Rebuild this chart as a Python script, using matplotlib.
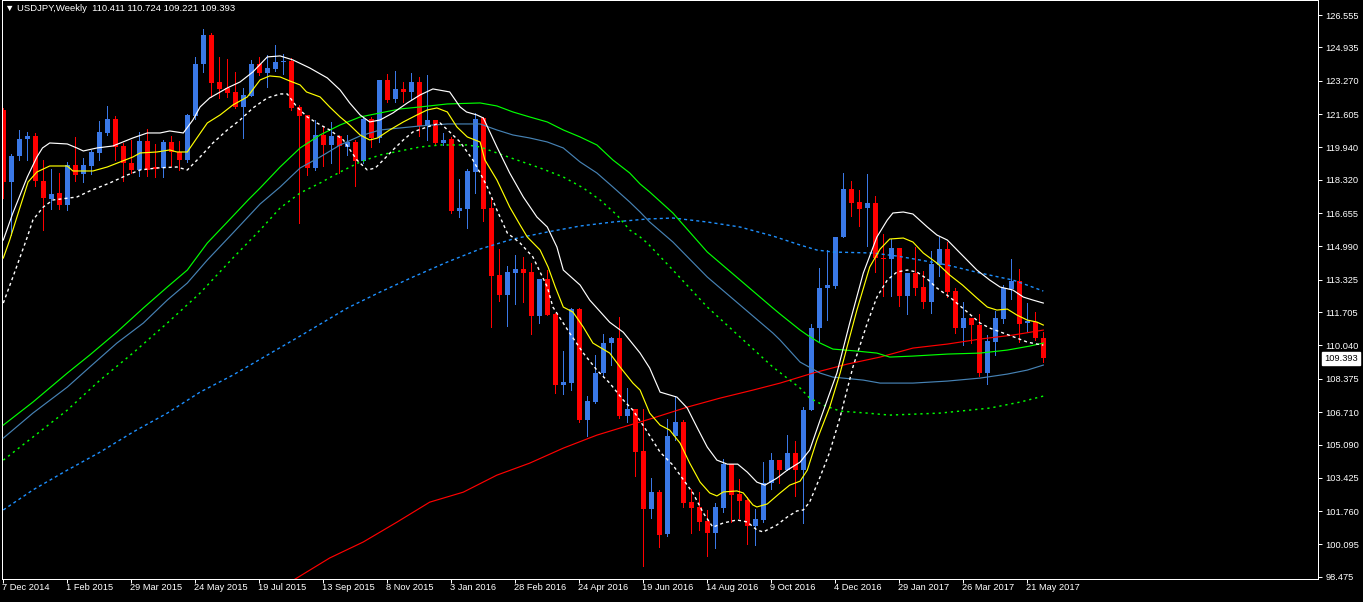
import matplotlib
matplotlib.use('Agg')
import matplotlib.pyplot as plt
from matplotlib.transforms import offset_copy, blended_transform_factory
import numpy as np

# ---------------- data ----------------
opens = [121.80, 118.22, 119.50, 120.36, 120.50, 118.26, 117.36, 117.66, 117.06, 119.06,
         118.60, 119.00, 119.66, 120.66, 121.35, 120.00, 119.16, 118.80, 120.26, 118.95,
         118.90, 120.20, 119.70, 119.30, 121.50, 124.10, 125.56, 123.20, 122.90, 122.70,
         121.95, 122.50, 124.10, 123.66, 123.86, 124.20, 124.25, 121.95, 121.56, 118.90,
         120.56, 120.06, 120.50, 119.96, 120.20, 119.26, 121.36, 120.40, 123.30, 122.36,
         122.86, 122.70, 123.20, 121.00, 121.30, 120.16, 120.36, 116.76, 116.86, 118.70,
         121.40, 116.90, 113.56, 112.56, 113.66, 113.86, 113.70, 111.50, 113.36, 111.60,
         108.06, 108.16, 111.85, 106.30, 107.20, 108.66, 110.16, 110.40, 106.50, 106.86,
         104.76, 101.87, 102.72, 100.60, 105.50, 106.22, 102.20, 101.97, 101.27, 100.67,
         101.92, 104.12, 102.60, 102.32, 101.02, 101.32, 103.17, 104.32, 103.82, 104.67,
         103.82, 106.82, 110.90, 112.90, 113.00, 115.46, 117.86, 117.20, 116.91, 117.16,
         114.41, 114.36, 114.90, 112.51, 113.66, 112.96, 112.21, 114.06, 114.86, 112.76,
         110.91, 111.41, 111.06, 108.66, 110.21, 111.36, 112.86, 113.26, 111.16, 111.21,
         110.411]
highs = [121.90, 119.60, 120.81, 120.70, 120.65, 119.30, 118.86, 118.66, 119.20, 120.46,
         119.40, 119.80, 121.25, 122.00, 121.50, 120.16, 120.30, 120.70, 120.86, 120.10,
         120.30, 120.50, 120.26, 121.60, 124.45, 125.86, 125.65, 124.45, 124.35, 123.70,
         122.90, 124.30, 124.45, 124.55, 125.05, 124.60, 124.40, 122.05, 121.56, 121.30,
         121.00, 121.20, 120.56, 120.56, 120.30, 121.46, 121.46, 123.30, 123.60, 123.75,
         123.20, 123.66, 123.46, 123.56, 121.30, 120.66, 120.46, 118.36, 118.86, 121.66,
         121.46, 117.40, 114.86, 114.00, 114.56, 114.46, 114.16, 113.36, 113.80, 111.66,
         109.76, 111.90, 111.90, 107.50, 109.56, 110.60, 110.46, 111.46, 107.90, 106.86,
         106.86, 103.40, 102.82, 106.36, 107.51, 106.30, 102.87, 102.72, 101.82, 102.17,
         104.37, 104.12, 103.37, 102.47, 101.87, 104.22, 104.67, 104.32, 105.57, 105.27,
         106.96, 111.10, 113.91, 114.80, 115.46, 118.66, 118.26, 117.81, 118.60, 117.50,
         115.60, 115.36, 114.90, 113.66, 114.96, 113.76, 114.76, 115.46, 115.21, 112.91,
         112.21, 111.41, 111.61, 110.56, 111.76, 113.06, 114.36, 113.86, 112.16, 111.71,
         110.724]
lows = [117.40, 115.57, 119.31, 119.30, 118.00, 115.80, 116.86, 116.86, 116.80, 118.26,
        118.20, 118.60, 119.30, 120.56, 119.30, 118.26, 118.65, 118.50, 118.50, 118.47,
        118.45, 119.00, 118.80, 119.20, 121.35, 123.70, 122.46, 122.40, 122.45, 121.90,
        120.40, 122.50, 123.56, 122.96, 123.76, 123.60, 121.80, 116.15, 118.55, 118.80,
        119.00, 119.16, 118.66, 119.56, 118.00, 119.16, 119.96, 120.20, 122.20, 122.20,
        122.20, 122.30, 120.50, 120.30, 120.10, 120.06, 116.66, 116.46, 115.90, 117.66,
        116.26, 110.96, 112.26, 111.00, 112.10, 112.20, 110.60, 111.16, 111.56, 107.66,
        107.60, 107.80, 106.20, 105.50, 107.16, 108.46, 109.06, 106.40, 106.20, 103.52,
        99.02, 101.42, 99.97, 100.50, 105.30, 101.97, 100.67, 100.82, 99.52, 99.92,
        101.72, 101.22, 101.42, 100.12, 100.07, 101.22, 102.87, 103.17, 103.82, 102.52,
        101.17, 106.80, 110.26, 111.30, 112.90, 115.46, 116.51, 116.01, 115.00, 113.70,
        112.50, 112.51, 112.00, 111.60, 112.56, 111.91, 111.66, 113.51, 112.46, 110.66,
        110.06, 110.16, 108.51, 108.11, 109.56, 111.16, 112.36, 110.21, 110.76, 110.31,
        109.221]
closes = [118.22, 119.50, 120.36, 120.50, 118.26, 117.40, 117.60, 117.06, 119.06, 118.56,
          119.06, 119.70, 120.70, 121.35, 119.96, 119.16, 118.80, 120.26, 118.80, 118.88,
          120.20, 119.70, 119.30, 121.56, 124.10, 125.56, 123.16, 122.86, 122.66, 121.95,
          122.56, 124.10, 123.66, 123.90, 124.20, 124.25, 121.90, 121.50, 118.90, 120.56,
          120.06, 120.50, 120.00, 120.20, 119.26, 121.36, 120.40, 123.30, 122.30, 122.86,
          122.70, 123.20, 121.00, 121.30, 120.16, 120.30, 116.76, 116.90, 118.76, 121.36,
          116.86, 113.51, 112.56, 113.70, 113.86, 113.66, 111.52, 113.36, 111.56, 108.06,
          108.20, 111.85, 106.30, 107.26, 108.66, 110.16, 110.40, 106.50, 106.86, 104.72,
          101.87, 102.72, 100.57, 105.52, 106.22, 102.17, 101.90, 101.22, 100.67, 101.97,
          104.12, 102.57, 102.27, 101.02, 101.37, 103.17, 104.32, 103.82, 104.67, 103.82,
          106.81, 110.91, 112.91, 113.06, 115.46, 117.86, 117.16, 116.86, 117.16, 114.41,
          114.36, 114.90, 112.51, 113.66, 112.91, 112.21, 114.11, 114.86, 112.71, 110.91,
          111.41, 111.06, 108.66, 110.26, 111.41, 112.91, 113.26, 111.11, 111.26, 110.41,
          109.393]

date_idx = [0, 8, 16, 24, 32, 40, 48, 56, 64, 72, 80, 88, 96, 104, 112, 120, 128]
date_labels = ['7 Dec 2014', '1 Feb 2015', '29 Mar 2015', '24 May 2015', '19 Jul 2015',
               '13 Sep 2015', '8 Nov 2015', '3 Jan 2016', '28 Feb 2016', '24 Apr 2016',
               '19 Jun 2016', '14 Aug 2016', '9 Oct 2016', '4 Dec 2016', '29 Jan 2017',
               '26 Mar 2017', '21 May 2017']
price_ticks = [126.555, 124.935, 123.270, 121.605, 119.940, 118.320, 116.655, 114.990,
               113.325, 111.705, 110.040, 108.375, 106.710, 105.090, 103.425, 101.760,
               100.095, 98.475]
last_price = 109.393
title_text = '\u25bc USDJPY,Weekly  110.411 110.724 109.221 109.393'

# indicator lines (week index, price)
white_up_idx = [0, 1.2, 3.0, 4.2, 4.9, 5.8, 8.0, 9.2, 10.0, 11.7, 13.7, 16.2, 18.0, 19.6, 20.8,
                22.5, 23.7, 24.6, 25.8, 28.0, 29.6, 31.2, 33.0, 34.6, 36.2, 38.3, 40.5, 42.1,
                43.3, 44.6, 45.8, 47.1, 48.7, 50.5, 52.1, 53.7, 55.8, 57.1, 57.9, 59.2, 60.0,
                61.7, 63.3, 65.0, 66.7, 68.0, 69.2, 70.0, 72.1, 73.3, 75.8, 77.5, 79.6, 80.8,
                82.1, 84.2, 85.5, 86.7, 88.0, 89.2, 90.5, 91.8, 93.0, 94.2, 95.2, 96.7, 98.0,
                99.6, 100.8, 102.1, 103.3, 104.2, 105.8, 107.5, 109.2, 110.5, 111.2, 112.5,
                113.7, 115.5, 116.7, 118.0, 119.6, 121.7, 123.3, 124.6, 126.2, 127.5, 128.7,
                130.0]
white_up_val = [115.31, 116.66, 118.46, 119.46, 119.91, 120.16, 120.11, 119.91, 119.76, 119.91,
                120.01, 120.41, 120.66, 120.66, 120.76, 120.66, 121.31, 121.96, 122.41, 122.91,
                123.21, 123.71, 124.46, 124.51, 124.31, 123.91, 123.41, 122.81, 122.16, 121.56,
                121.21, 121.31, 121.66, 122.16, 122.56, 122.86, 122.71, 121.96, 121.71, 121.56,
                121.41, 119.96, 118.66, 117.46, 116.46, 115.96, 114.96, 113.81, 113.06, 112.31,
                111.20, 110.70, 109.66, 108.91, 107.71, 107.46, 106.91, 105.96, 104.96, 104.31,
                104.11, 104.11, 103.71, 103.21, 103.06, 103.41, 103.81, 104.21, 104.81, 106.31,
                107.66, 108.66, 111.16, 113.66, 115.46, 116.31, 116.66, 116.71, 116.61, 115.96,
                115.56, 115.31, 114.66, 113.81, 113.31, 112.96, 112.81, 112.46, 112.31, 112.16]

yellow_idx = [0, 0.8, 2.1, 3.1, 4.2, 5.8, 8.0, 8.7, 11.2, 13.0, 14.6, 16.2, 17.1, 19.2, 20.8,
              21.7, 23.0, 24.2, 25.5, 27.1, 28.7, 30.5, 32.1, 33.3, 34.6, 35.8, 37.1, 37.9,
              39.6, 40.8, 42.1, 43.3, 44.6, 45.8, 46.8, 48.3, 50.0, 51.7, 53.0, 54.2, 55.5,
              56.7, 58.0, 59.6, 60.2, 61.7, 63.3, 64.6, 65.5, 67.1, 68.1, 69.0, 70.0, 71.2,
              72.5, 73.7, 75.8, 77.1, 78.7, 79.6, 80.8, 82.1, 83.3, 84.6, 85.8, 87.1, 88.3,
              89.2, 90.0, 91.7, 92.5, 93.7, 94.2, 95.5, 97.1, 98.3, 99.6, 100.5, 101.7, 103.3,
              104.6, 106.7, 108.3, 109.6, 110.8, 112.5, 113.7, 115.0, 116.7, 118.3, 119.9,
              121.7, 123.0, 124.2, 125.5, 126.7, 128.0, 129.2, 130.0]
yellow_val = [114.41, 115.31, 116.96, 118.21, 118.71, 119.01, 119.01, 118.76, 118.76, 118.96,
              119.21, 119.46, 119.66, 119.71, 119.81, 119.71, 119.71, 120.41, 121.16, 121.56,
              122.06, 122.46, 123.31, 123.51, 123.46, 123.26, 123.06, 122.71, 122.46, 121.96,
              121.46, 121.06, 120.56, 120.31, 120.41, 120.81, 121.21, 121.56, 121.81, 121.91,
              121.71, 120.96, 120.46, 120.21, 119.31, 118.31, 116.96, 116.06, 115.46, 114.81,
              113.96, 112.96, 111.96, 111.71, 110.96, 110.16, 109.66, 108.96, 108.16, 107.81,
              106.66, 106.06, 105.81, 105.16, 104.16, 103.21, 102.67, 102.52, 102.72, 102.77,
              102.67, 102.07, 101.97, 102.12, 102.67, 103.06, 103.26, 103.81, 105.31, 106.96,
              108.66, 111.81, 113.96, 114.86, 115.36, 115.41, 115.21, 114.66, 114.16, 113.56,
              113.06, 112.41, 111.96, 111.81, 111.86, 111.56, 111.31, 111.21, 111.06]

white_lo_idx = [0, 1.2, 2.1, 3.0, 3.7, 5.0, 6.2, 9.2, 10.8, 13.3, 15.5, 17.1, 19.2, 21.7, 23.0,
                24.6, 26.2, 28.0, 29.6, 31.2, 33.0, 34.6, 35.5, 36.7, 38.0, 39.2, 40.8, 42.5,
                44.2, 45.5, 46.5, 47.5, 48.7, 50.0, 51.2, 53.0, 54.6, 55.8, 57.1, 58.7, 59.6,
                60.5, 61.7, 63.0, 64.6, 66.2, 68.0, 68.7, 70.8, 72.5, 74.2, 75.8, 77.5, 78.7,
                80.2, 82.1, 83.7, 84.6, 86.2, 87.5, 88.7, 90.0, 91.7, 93.0, 94.2, 95.0, 96.7,
                98.0, 99.2, 100.0, 100.8, 102.1, 103.3, 104.6, 106.2, 108.0, 109.2, 110.5,
                111.7, 113.0, 114.2, 115.5, 116.7, 118.3, 120.5, 122.1, 123.3, 125.0, 126.7,
                128.0, 129.2, 130.0]
white_lo_val = [112.16, 113.46, 114.46, 115.46, 116.31, 116.96, 117.31, 117.46, 117.76, 118.16,
                118.56, 118.81, 118.91, 118.96, 118.81, 119.46, 120.16, 120.81, 121.31, 121.91,
                122.41, 122.61, 122.61, 121.96, 121.46, 121.16, 120.81, 120.31, 119.31, 118.81,
                118.91, 119.31, 119.81, 120.31, 120.71, 120.96, 121.16, 120.71, 120.21, 119.31,
                118.66, 117.96, 116.81, 115.66, 115.16, 114.46, 112.96, 111.96, 110.66, 109.66,
                108.81, 108.16, 107.31, 106.81, 105.91, 104.71, 104.06, 103.56, 102.67, 101.67,
                100.96, 101.17, 101.32, 101.22, 100.82, 100.72, 101.07, 101.47, 101.77, 101.82,
                102.22, 103.47, 104.71, 106.46, 108.96, 111.16, 112.46, 113.31, 113.71, 113.81,
                113.71, 113.36, 112.91, 112.46, 111.71, 111.16, 110.91, 110.66, 110.41, 110.21,
                110.11, 110.06]

green_up_idx = [0, 3.7, 8.0, 10.8, 14.2, 17.5, 20.5, 23.0, 25.5, 28.0, 30.6, 32.1, 34.6, 37.1,
                39.6, 42.1, 44.6, 47.1, 49.6, 52.1, 55.5, 59.6, 61.7, 63.7, 65.8, 68.0, 70.0,
                72.1, 74.2, 76.2, 78.3, 79.6, 80.8, 83.7, 88.0, 92.1, 96.2, 97.1, 99.6, 100.5,
                102.1, 103.7, 106.7, 109.2, 110.8, 113.7, 118.0, 122.1, 125.5, 128.3, 130.0]
green_up_val = [106.06, 107.21, 108.66, 109.56, 110.71, 111.91, 112.96, 113.81, 115.16, 116.21,
                117.31, 117.91, 118.96, 119.91, 120.56, 121.06, 121.46, 121.66, 121.86, 121.96,
                122.11, 122.16, 122.01, 121.71, 121.46, 121.21, 120.81, 120.46, 120.06, 119.31,
                118.66, 118.11, 117.71, 116.66, 114.71, 113.31, 111.91, 111.61, 110.81, 110.56,
                110.16, 109.86, 109.76, 109.66, 109.46, 109.51, 109.61, 109.66, 109.81, 110.01,
                110.16]

steel_idx = [0, 3.7, 8.0, 10.8, 14.2, 17.5, 20.5, 23.0, 25.5, 28.7, 32.1, 34.6, 37.1, 39.6,
             42.1, 44.6, 47.1, 49.6, 52.1, 55.5, 59.6, 61.7, 63.7, 65.8, 68.0, 70.0, 72.1, 74.2,
             76.2, 78.3, 79.6, 80.8, 83.7, 88.0, 92.1, 96.2, 97.1, 99.6, 102.1, 103.7, 107.5,
             109.6, 113.7, 118.0, 122.1, 125.5, 128.0, 130.0]
steel_val = [105.41, 106.66, 107.96, 108.96, 110.16, 111.16, 112.31, 113.16, 114.31, 115.66,
             117.11, 117.96, 118.91, 119.46, 120.06, 120.51, 120.81, 120.91, 121.01, 121.11,
             121.11, 120.81, 120.56, 120.41, 120.21, 119.91, 119.21, 118.66, 117.96, 117.21,
             116.71, 116.21, 115.21, 113.46, 112.06, 110.66, 110.31, 109.21, 108.66, 108.46,
             108.31, 108.16, 108.16, 108.26, 108.41, 108.61, 108.81, 109.06]

green_lo_idx = [0, 3.7, 8.0, 12.1, 16.2, 20.5, 24.6, 28.7, 32.1, 34.6, 37.1, 39.6, 42.1, 44.6,
                47.1, 49.6, 52.1, 54.6, 58.0, 59.6, 61.7, 64.2, 67.1, 70.0, 72.5, 74.6, 76.7,
                78.3, 79.6, 80.5, 83.7, 88.0, 92.1, 96.2, 99.6, 100.8, 102.5, 104.6, 108.0,
                110.8, 117.1, 123.3, 127.1, 130.0]
green_lo_val = [104.31, 105.46, 106.81, 108.31, 109.66, 111.16, 112.66, 114.41, 115.81, 116.91,
                117.66, 118.16, 118.71, 119.21, 119.56, 119.76, 119.96, 120.06, 120.06, 119.96,
                119.66, 119.31, 118.91, 118.46, 117.91, 117.31, 116.56, 115.81, 115.46, 115.16,
                113.81, 111.96, 110.46, 108.96, 107.91, 107.41, 107.06, 106.76, 106.66, 106.56,
                106.66, 106.91, 107.21, 107.51]

blue_dash_idx = [0, 3.7, 8.0, 12.1, 16.2, 20.5, 24.6, 28.7, 33.0, 37.1, 43.0, 47.1, 51.2, 55.5,
                 59.6, 63.7, 68.0, 72.1, 76.2, 80.5, 83.7, 88.0, 92.1, 96.2, 99.6, 101.7, 103.7,
                 108.7, 111.7, 114.6, 118.0, 122.1, 126.2, 128.3, 130.0]
blue_dash_val = [101.82, 102.82, 103.81, 104.71, 105.71, 106.66, 107.71, 108.56, 109.56, 110.51,
                 111.91, 112.71, 113.46, 114.21, 114.86, 115.36, 115.71, 116.01, 116.21, 116.36,
                 116.41, 116.21, 115.96, 115.51, 115.06, 114.81, 114.71, 114.66, 114.51, 114.31,
                 114.06, 113.66, 113.31, 113.01, 112.76]

red_idx = [34.6, 36.7, 40.8, 45.0, 49.2, 53.3, 57.5, 61.7, 65.8, 70.0, 74.2, 78.3, 81.2, 85.5,
           89.6, 93.7, 97.1, 101.2, 105.5, 109.6, 113.7, 118.0, 122.1, 126.2, 130.0]
red_val = [97.92, 98.42, 99.42, 100.22, 101.21, 102.21, 102.71, 103.56, 104.16, 104.91, 105.56,
           106.06, 106.41, 106.96, 107.41, 107.81, 108.16, 108.66, 109.11, 109.46, 109.91,
           110.11, 110.36, 110.56, 110.81]

# ---------------- style ----------------
plt.rcParams['font.family'] = ['Liberation Sans', 'DejaVu Sans']
plt.rcParams['lines.scale_dashes'] = False

W, H = 1363, 602
fig = plt.figure(figsize=(W / 100, H / 100), dpi=100, facecolor='black')
ax = fig.add_axes([2 / W, 23 / H, 1316 / W, 579 / H])
ax.set_facecolor('black')

BULL = '#3A78E6'
BEAR = '#FF0000'
PX = 0.72   # one pixel in points

o = np.array(opens); hi = np.array(highs); lo = np.array(lows); c = np.array(closes)
x = np.arange(len(o))
cols = np.where(c >= o, BULL, BEAR)
ax.vlines(x, lo, hi, colors=cols, lw=PX, zorder=2, antialiased=False)
ax.bar(x, np.maximum(np.abs(c - o), 0.05), bottom=np.minimum(o, c), width=0.625,
       color=cols, lw=0, zorder=2.5, antialiased=False)

def line(ix, vals, color, dashes=None, lw=0.85, z=3):
    kw = dict(color=color, lw=lw, zorder=z, antialiased=True, solid_joinstyle='miter')
    if dashes:
        kw['dashes'] = dashes
        kw['dash_capstyle'] = 'butt'
    ax.plot(ix, vals, **kw)

line(blue_dash_idx, blue_dash_val, '#1E90FF', (2.2, 2.2), lw=1.0)
line(red_idx, red_val, '#FF0000')
line(green_lo_idx, green_lo_val, '#00FF00', (1.6, 2.8), lw=1.05)
line(steel_idx, steel_val, '#4682B4')
line(green_up_idx, green_up_val, '#00FF00')
line(white_lo_idx, white_lo_val, '#FFFFFF', (2.2, 2.2), lw=1.0)
line(yellow_idx, yellow_val, '#FFFF00')
line(white_up_idx, white_up_val, '#FFFFFF')

ax.set_xlim(-0.1625, -0.1625 + 1316 / 8)
ax.set_ylim(127.305 - 579 / 20.01, 127.305)

for s in ax.spines.values():
    s.set_color('white')
    s.set_linewidth(PX)

# right price axis
ax.yaxis.tick_right()
ax.set_yticks(price_ticks)
ax.set_yticklabels([f'{v:.3f}' for v in price_ticks])
ax.tick_params(axis='y', colors='white', length=3, width=PX, pad=2.2, labelsize=6.7,
               direction='out')

# bottom date axis
ax.set_xticks(date_idx)
ax.tick_params(axis='x', colors='white', length=3, width=PX, direction='out',
               labelbottom=False)
tr = offset_copy(ax.get_xaxis_transform(), fig=fig, x=-1.5, y=-9, units='dots')
for i, lab in zip(date_idx, date_labels):
    ax.text(i, 0, lab, transform=tr, ha='left', va='center', color='white', fontsize=6.7)

# last price box
btr = offset_copy(blended_transform_factory(ax.transAxes, ax.transData), fig=fig,
                  x=6.5, y=0, units='dots')
ax.text(1.0, last_price, f'{last_price:.3f}', transform=btr, ha='left', va='center',
        color='black', fontsize=6.7, clip_on=False,
        bbox=dict(boxstyle='square,pad=0.25', facecolor='white', edgecolor='white'))

# title
fig.text(5 / W, 1 - 8.5 / H, title_text, color='white', fontsize=6.8, ha='left', va='center')

fig.savefig('out.png', dpi=100, facecolor='black')
